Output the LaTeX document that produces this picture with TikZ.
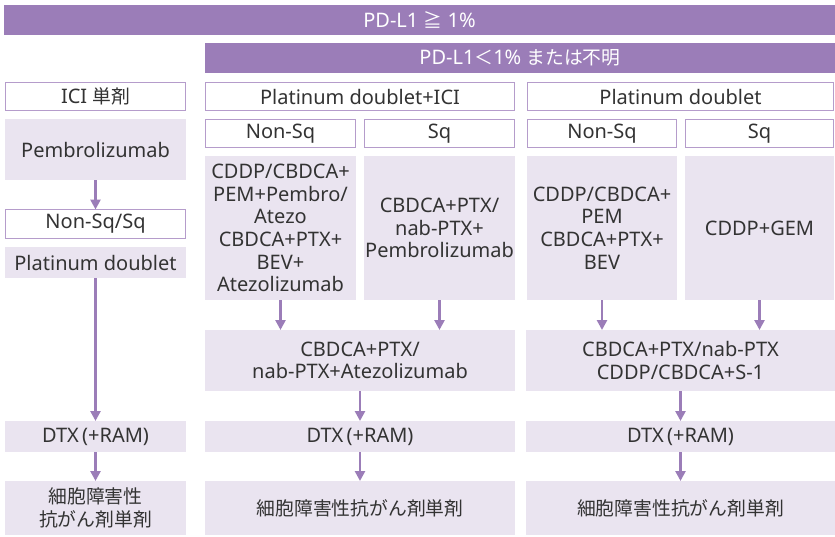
\documentclass[tikz,border=0pt]{standalone}
\usepackage{fontspec}
\setmainfont{Noto Sans}
\newfontfamily\jp[Scale=0.94]{Noto Sans CJK JP}
\usetikzlibrary{arrows.meta}
\definecolor{pbar}{HTML}{9B7DB8}
\definecolor{pfill}{HTML}{EAE4F0}
\definecolor{pline}{HTML}{B59CCB}
\definecolor{ptext}{HTML}{333333}
\definecolor{parrow}{HTML}{9B7DB8}
\tikzset{
  base/.style={inner sep=0pt, outer sep=0pt, align=center, text=ptext, font=\fontsize{20}{22.7}\selectfont},
  barbox/.style={base, fill=pbar, text=white},
  linebox/.style={base, fill=white, draw=pline, line width=1pt},
  fillbox/.style={base, fill=pfill},
  arr/.style={draw=parrow, line width=2.8pt, -{Triangle[width=10pt,length=10pt]}, shorten >=0pt}
}
\newcommand{\bx}[7]{\node[#1, minimum width=#5pt, minimum height=#6pt] (#2) at (#3,#4) {#7};}
\begin{document}
\begin{tikzpicture}[x=1pt,y=-1pt]
\useasboundingbox (0,0) rectangle (835,536);
\bx{barbox}{top}{419.5}{20}{831}{30}{PD-L1 {\jp ≧} 1\%}
\bx{barbox}{pdb2}{520}{58}{630}{30}{PD-L1{\jp ＜}1\% {\jp または不明}}
\bx{linebox}{ici}{95.5}{96.5}{180}{28}{ICI {\jp 単剤}}
\bx{linebox}{pdici}{360}{96.5}{309}{28}{Platinum doublet+ICI}
\bx{linebox}{pdb}{680.5}{96.5}{306}{28}{Platinum doublet}
\bx{fillbox}{pem}{95.5}{149.5}{181}{61}{Pembrolizumab}
\bx{linebox}{ns1}{280.5}{133.5}{150}{28}{Non-Sq}
\bx{linebox}{sq1}{439.5}{133.5}{150}{28}{Sq}
\bx{linebox}{ns2}{602}{133.5}{149}{28}{Non-Sq}
\bx{linebox}{sq2}{759.5}{133.5}{148}{28}{Sq}
\bx{fillbox}{b1}{280.5}{228}{151}{144}{CDDP/CBDCA+\\PEM+Pembro/\\Atezo\\CBDCA+PTX+\\BEV+\\Atezolizumab}
\bx{fillbox}{b2}{439.5}{228}{151}{144}{CBDCA+PTX/\\nab-PTX+\\Pembrolizumab}
\bx{fillbox}{b3}{602}{228}{150}{144}{CDDP/CBDCA+\\PEM\\CBDCA+PTX+\\BEV}
\bx{fillbox}{b4}{759.5}{228}{149}{144}{CDDP+GEM}
\bx{linebox}{nsq}{95.5}{224}{180}{29}{Non-Sq/Sq}
\bx{fillbox}{pdl}{95.5}{262.5}{181}{31}{Platinum doublet}
\bx{fillbox}{m1}{360}{360.5}{310}{61}{CBDCA+PTX/\\nab-PTX+Atezolizumab}
\bx{fillbox}{m2}{680.5}{360.5}{309}{61}{CBDCA+PTX/nab-PTX\\CDDP/CBDCA+S-1}
\bx{fillbox}{d0}{95.5}{436.5}{181}{31}{DTX\,(+RAM)}
\bx{fillbox}{d1}{360}{436.5}{310}{31}{DTX\,(+RAM)}
\bx{fillbox}{d2}{680.5}{436.5}{309}{31}{DTX\,(+RAM)}
\bx{fillbox}{l0}{95.5}{508}{181}{54}{{\jp 細胞障害性}\\{\jp 抗がん剤単剤}}
\bx{fillbox}{l1}{360}{508}{310}{54}{{\jp 細胞障害性抗がん剤単剤}}
\bx{fillbox}{l2}{680.5}{508}{309}{54}{{\jp 細胞障害性抗がん剤単剤}}
\draw[arr] (pem.south) -- (nsq.north);
\draw[arr] (pdl.south) -- (d0.north);
\draw[arr] (b1.south) -- (b1.south |- m1.north);
\draw[arr] (b2.south) -- (b2.south |- m1.north);
\draw[arr] (b3.south) -- (b3.south |- m2.north);
\draw[arr] (b4.south) -- (b4.south |- m2.north);
\draw[arr] (m1.south) -- (d1.north);
\draw[arr] (m2.south) -- (d2.north);
\draw[arr] (d0.south) -- (l0.north);
\draw[arr] (d1.south) -- (l1.north);
\draw[arr] (d2.south) -- (l2.north);
\end{tikzpicture}
\end{document}
